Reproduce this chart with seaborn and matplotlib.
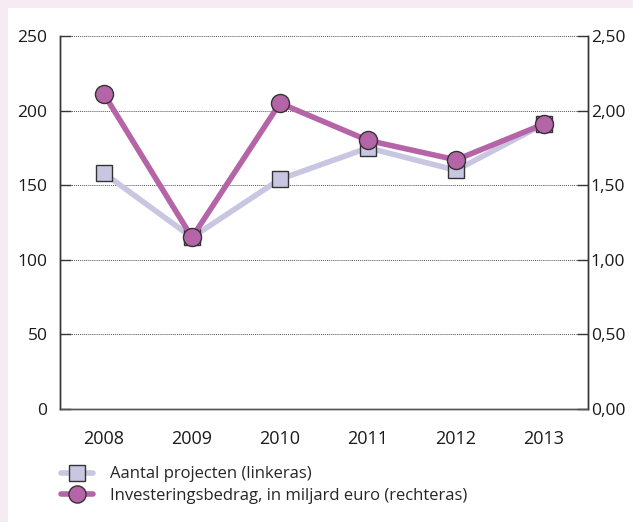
import pandas as pd
import matplotlib.pyplot as plt
import seaborn as sns
from matplotlib.patches import Rectangle

years = ['2008', '2009', '2010', '2011', '2012', '2013']
projecten = [158, 115, 154, 175, 160, 191]
investering = [2.11, 1.15, 2.05, 1.80, 1.67, 1.91]

left_ticks = [0, 50, 100, 150, 200, 250]
right_labels = ['0,00', '0,50', '1,00', '1,50', '2,00', '2,50']

light = '#c9c6e2'
purple = '#b565a7'

sns.set_style('white')
plt.rcParams['font.family'] = ['Open Sans', 'DejaVu Sans']

df = pd.DataFrame({'pos': range(len(years)), 'projecten': projecten,
                   'investering': investering})

fig = plt.figure(figsize=(6.33, 5.22), dpi=100)
fig.patch.set_facecolor('#f6eaf3')
# white inner panel
fig.patches.append(Rectangle((8 / 633, 0), 1, 1 - 8 / 522, transform=fig.transFigure,
                             facecolor='white', edgecolor='none', zorder=-10))

ax = fig.add_axes([60 / 633, 1 - 409 / 522, (588 - 60) / 633, (409 - 36) / 522])
ax.set_facecolor('none')
ax2 = ax.twinx()
ax2.set_facecolor('none')

sns.lineplot(data=df, x='pos', y='projecten', ax=ax, color=light, lw=4,
             marker='s', markersize=12, markerfacecolor=light,
             markeredgecolor='#333333', markeredgewidth=1, zorder=3,
             label='Aantal projecten (linkeras)', legend=False)
sns.lineplot(data=df, x='pos', y='investering', ax=ax2, color=purple, lw=4,
             marker='o', markersize=13, markerfacecolor=purple,
             markeredgecolor='#333333', markeredgewidth=1, zorder=3,
             label='Investeringsbedrag, in miljard euro (rechteras)', legend=False)

ax.set_xlim(-0.5, 5.5)
ax.set_ylim(0, 250)
ax2.set_ylim(0, 2.5)
ax.set_yticks(left_ticks)
ax2.set_yticks([t / 100 for t in left_ticks])
ax2.set_yticklabels(right_labels)

ax.set_xticks(range(len(years)))
ax.set_xticklabels(years)
ax.set_xticks([i + 0.5 for i in range(len(years) - 1)], minor=True)
ax.tick_params(axis='x', which='major', length=0, pad=15, labelsize=13, colors='#1a1a1a')
ax.tick_params(axis='x', which='minor', direction='in', length=10, width=1, color='#555555')
ax.tick_params(axis='y', direction='in', length=8, width=1, color='#333333',
               labelsize=12.5, labelcolor='#1a1a1a', pad=9, left=True)
ax2.tick_params(axis='y', direction='in', length=8, width=1, color='#333333',
                labelsize=12.5, labelcolor='#1a1a1a', pad=2, right=True)

ax.grid(axis='y', color='#555555', linestyle=(0, (1, 1)), linewidth=0.7)
ax.set_axisbelow(True)
ax.set_xlabel('')
ax.set_ylabel('')
ax2.set_ylabel('')

for a in (ax, ax2):
    a.spines['top'].set_visible(False)
    a.spines['left'].set_color('#333333')
    a.spines['right'].set_color('#333333')
    a.spines['bottom'].set_color('#555555')
    for s in ('left', 'right', 'bottom'):
        a.spines[s].set_linewidth(1)

h1, l1 = ax.get_legend_handles_labels()
h2, l2 = ax2.get_legend_handles_labels()
fig.legend(h1 + h2, l1 + l2, loc='upper left', bbox_to_anchor=(53 / 633, 1 - 458 / 522),
           frameon=False, fontsize=12, handlelength=1.9, handletextpad=1.0,
           labelspacing=0.35, borderpad=0, markerscale=0.95)

fig.savefig('out.png', dpi=100, facecolor=fig.get_facecolor())
